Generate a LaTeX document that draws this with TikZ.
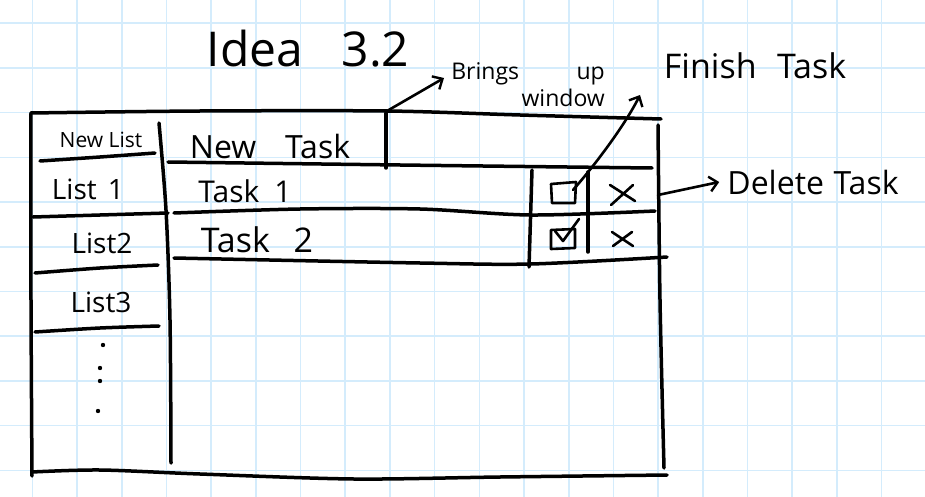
\documentclass[tikz,border=0pt]{standalone}
\usepackage{fontspec}
\setmainfont{Open Sans}
\usetikzlibrary{arrows.meta}
\definecolor{gridblue}{RGB}{212,236,252}
\begin{document}
\begin{tikzpicture}[x=1pt,y=-1pt,
  gridline/.style={gridblue,line width=1.6pt},
  ink/.style={black,line width=3.5pt,line cap=round,line join=round},
  thinink/.style={black,line width=2.6pt,line cap=round,line join=round},
  lbl/.style={inner sep=0pt,text=black},
  barb/.style={thinink,-{Straight Barb[length=8pt,width=15pt,line width=2.4pt]}},
]
\useasboundingbox (0,0) rectangle (925,497);
\fill[white] (0,0) rectangle (925,497);
% grid paper
\foreach \i in {0,...,19} \draw[gridline] ({32.3+44.7*\i},0) -- ({32.3+44.7*\i},497);
\foreach \j in {0,...,10} \draw[gridline] (0,{23.3+44.7*\j}) -- (925,{23.3+44.7*\j});

% outer frame
\draw[ink] plot[smooth] coordinates {(31,113) (200,111) (387,111) (520,115) (661,119)};
\draw[ink] plot[smooth] coordinates {(31,113) (31,300) (32,476)};
\draw[ink] plot[smooth] coordinates {(32,472) (100,470) (200,474) (354,479) (500,477) (667,475)};
\draw[ink] plot[smooth] coordinates {(658,125) (660,300) (664,468)};
% list column
\draw[ink] plot[smooth] coordinates {(159,123) (166,210) (170,320) (171,463)};
\draw[ink] plot[smooth] coordinates {(40,161) (100,157) (155,153)};
\draw[ink] plot[smooth] coordinates {(33,217) (100,215) (168,213)};
\draw[ink] plot[smooth] coordinates {(35,273) (100,268) (158,265)};
\draw[ink] plot[smooth] coordinates {(35,332) (100,328) (159,326)};
\foreach \p in {(103,345),(100,368),(100,381),(98,411)} \fill[black] \p circle (2.2pt);
% task area
\draw[ink] (386,113) -- (386,168);
\draw[ink] plot[smooth] coordinates {(168,162) (400,165) (652,168)};
\draw[ink] plot[smooth] coordinates {(174,213) (300,209) (420,209) (531,215) (655,211)};
\draw[ink] plot[smooth] coordinates {(174,258) (420,263) (531,264) (667,257)};
\draw[ink] (532,170) -- (529,267);
\draw[ink] (588,172) -- (588,252);
% checkboxes and crosses
\draw[thinink] (551,184) -- (576,182) -- (575,203) -- (552,203) -- cycle;
\draw[thinink] (551,230) -- (575,229) -- (575,248) -- (551,249) -- cycle;
\draw[thinink] (555,231) -- (563,241) -- (579,219);
\draw[thinink] (610,185) -- (635,201) (633,185) -- (611,205);
\draw[thinink] (612,232) -- (633,246) (632,232) -- (613,246);

% texts
\node[lbl,font=\fontsize{48}{52}\selectfont] (title) at (308,49) {Idea\hspace{0.8em}3.2};
\node[lbl,font=\fontsize{21}{24}\selectfont] (newlist) at (101,140) {New List};
\node[lbl,font=\fontsize{28}{32}\selectfont] (list1) at (88,189) {List\hspace{0.4em}1};
\node[lbl,font=\fontsize{28}{32}\selectfont] (list2) at (102,243) {List2};
\node[lbl,font=\fontsize{28}{32}\selectfont] (list3) at (101,302) {List3};
\node[lbl,font=\fontsize{32}{36}\selectfont] (newtask) at (270,146) {New\hspace{0.9em}Task};
\node[lbl,font=\fontsize{30}{34}\selectfont] (task1) at (245,191) {Task\hspace{0.5em}1};
\node[lbl,font=\fontsize{34}{38}\selectfont] (task2) at (257,240) {Task\hspace{0.7em}2};
\node[lbl,font=\fontsize{34}{38}\selectfont] (finish) at (755,66) {Finish\hspace{0.6em}Task};
\node[lbl,font=\fontsize{32}{36}\selectfont] (delete) at (813,182) {Delete\hspace{0.3em}Task};
\node[lbl,align=right,anchor=east,font=\fontsize{23}{27}\selectfont] (brings) at (605,85) {Brings\hspace{2.5em}up\\window};

% connectors
\coordinate (bstart) at (387,111);
\coordinate (btip) at (444,78);
\draw[barb] (bstart) -- (btip);
\coordinate (cb1) at (573,190);
\coordinate (ftip) at (640,95);
\draw[barb] (cb1) .. controls (595,165) and (625,125) .. (ftip);
\coordinate (dstart) at (658,195);
\draw[barb] (dstart) -- ([xshift=-8pt]delete.west);
\end{tikzpicture}
\end{document}
